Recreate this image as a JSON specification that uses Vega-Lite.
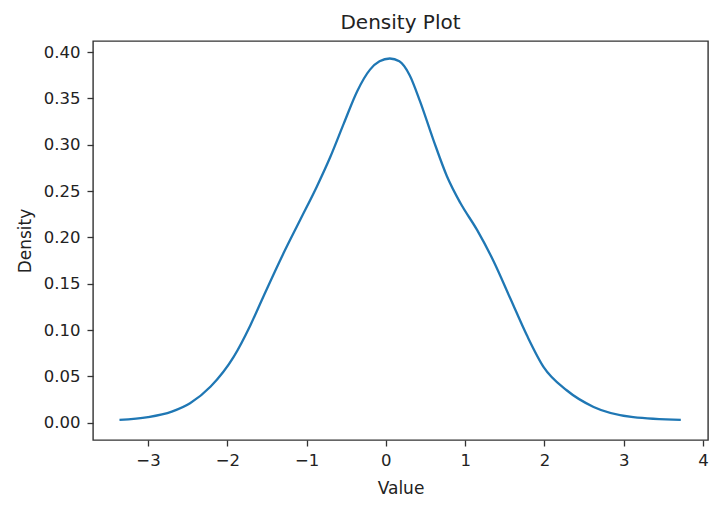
{
  "$schema": "https://vega.github.io/schema/vega-lite/v6.json",
  "width": 615,
  "height": 399,
  "autosize": {"type": "none"},
  "padding": {"left": 93, "top": 41, "right": 12, "bottom": 70},
  "background": "white",
  "config": {
    "font": "DejaVu Sans",
    "view": {"stroke": "#333333", "strokeWidth": 1.4},
    "axis": {"grid": false, "domain": false, "tickColor": "#333333", "tickWidth": 1.3, "tickSize": 6, "labelColor": "#222222", "titleColor": "#222222", "labelFont": "DejaVu Sans", "titleFont": "DejaVu Sans", "labelFontSize": 16.5, "titleFontSize": 17, "titleFontWeight": "normal"}
  },
  "title": {"text": "Density Plot", "fontSize": 20, "fontWeight": "normal", "font": "DejaVu Sans", "color": "#222222", "offset": 8},
  "data": {
    "values": [
      {"x": -3.36, "y": 0.003},
      {"x": -3.0, "y": 0.006},
      {"x": -2.7, "y": 0.012},
      {"x": -2.47, "y": 0.021},
      {"x": -2.21, "y": 0.039},
      {"x": -1.92, "y": 0.071},
      {"x": -1.71, "y": 0.105},
      {"x": -1.54, "y": 0.137},
      {"x": -1.29, "y": 0.183},
      {"x": -1.08, "y": 0.219},
      {"x": -0.87, "y": 0.255},
      {"x": -0.70, "y": 0.287},
      {"x": -0.53, "y": 0.323},
      {"x": -0.36, "y": 0.358},
      {"x": -0.20, "y": 0.381},
      {"x": -0.08, "y": 0.390},
      {"x": 0.05, "y": 0.393},
      {"x": 0.17, "y": 0.390},
      {"x": 0.30, "y": 0.375},
      {"x": 0.43, "y": 0.347},
      {"x": 0.60, "y": 0.305},
      {"x": 0.77, "y": 0.266},
      {"x": 0.94, "y": 0.237},
      {"x": 1.15, "y": 0.208},
      {"x": 1.36, "y": 0.174},
      {"x": 1.57, "y": 0.134},
      {"x": 1.78, "y": 0.094},
      {"x": 1.99, "y": 0.060},
      {"x": 2.28, "y": 0.035},
      {"x": 2.62, "y": 0.017},
      {"x": 3.12, "y": 0.006},
      {"x": 3.72, "y": 0.003}
    ]
  },
  "mark": {"type": "line", "interpolate": "monotone", "color": "#1f77b4", "strokeWidth": 2.3},
  "encoding": {
    "x": {"field": "x", "type": "quantitative", "title": "Value",
      "scale": {"domain": [-3.694, 4.063], "nice": false, "zero": false},
      "axis": {"values": [-3, -2, -1, 0, 1, 2, 3, 4], "format": "d", "labelPadding": 6, "titlePadding": 12}},
    "y": {"field": "y", "type": "quantitative", "title": "Density",
      "scale": {"domain": [-0.0187, 0.4119], "nice": false, "zero": false},
      "axis": {"values": [0, 0.05, 0.1, 0.15, 0.2, 0.25, 0.3, 0.35, 0.4], "format": ".2f", "labelPadding": 7, "titlePadding": 9}}
  }
}
